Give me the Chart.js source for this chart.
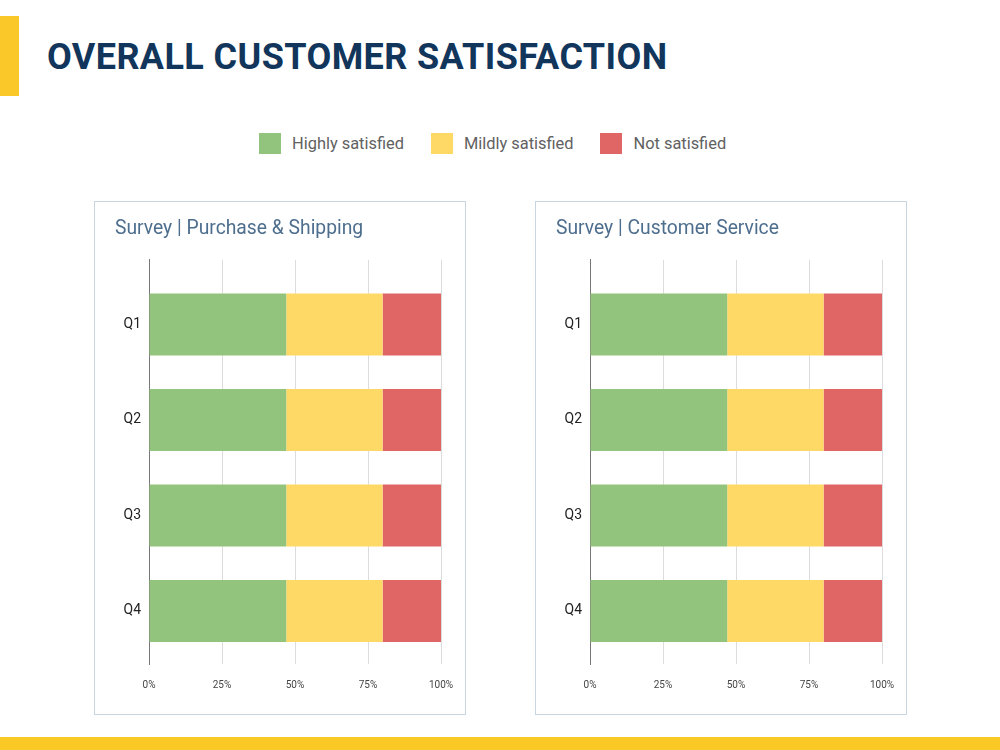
<!DOCTYPE html>
<html>
<head>
<meta charset="utf-8">
<script src="https://cdn.jsdelivr.net/npm/chart.js@4.4.1/dist/chart.umd.min.js"></script>
<style>
  body { margin: 0; background: #fff; font-family: Roboto, "Noto Sans", sans-serif; }
  .page { position: relative; width: 1000px; height: 750px; overflow: hidden; }
  .side-bar { position: absolute; left: 0; top: 16px; width: 19px; height: 80px; background: #fbc82a; }
  .bottom-bar { position: absolute; left: 0; top: 737px; width: 1000px; height: 13px; background: #fbc926; }
  h1 { position: absolute; left: 47px; top: 39px; margin: 0; font-size: 36px; line-height: 36px;
       letter-spacing: 0.4px; font-weight: 700; color: #12355b; white-space: nowrap; }
  #legend { position: absolute; left: 259px; top: 133px; display: flex; align-items: center; }
  .item { display: flex; align-items: center; margin-right: 27px; font-size: 16.4px; color: #616161; }
  .swatch { width: 22px; height: 21px; margin-right: 11px; }
  .panel { position: absolute; top: 201px; width: 372px; height: 514px; box-sizing: border-box;
           border: 1px solid #c9d5df; }
  .panel canvas { display: block; }
</style>
</head>
<body>
<div class="page">
  <div class="side-bar"></div>
  <h1>OVERALL CUSTOMER SATISFACTION</h1>
  <div id="legend"></div>
  <div class="panel" style="left:94px"><canvas id="purchase" width="370" height="512"></canvas></div>
  <div class="panel" style="left:535px"><canvas id="service" width="370" height="512"></canvas></div>
  <div class="bottom-bar"></div>
</div>
<script>
const questions = ['Q1', 'Q2', 'Q3', 'Q4']
const seriesNames = ['Highly satisfied', 'Mildly satisfied', 'Not satisfied']
const seriesColors = ['#93c47d', '#ffd966', '#e06666']
const xTicks = [0, 25, 50, 75, 100]

// Survey | Purchase & Shipping
const purchaseHighly = [47, 47, 47, 47]
const purchaseMildly = [33, 33, 33, 33]
const purchaseNot = [20, 20, 20, 20]

// Survey | Customer Service
const serviceHighly = [47, 47, 47, 47]
const serviceMildly = [33, 33, 33, 33]
const serviceNot = [20, 20, 20, 20]

// html legend shared by both charts
const legend = document.getElementById('legend')
seriesNames.forEach((name, i) => {
    const item = document.createElement('div')
    item.className = 'item'
    item.innerHTML = `<span class="swatch" style="background:${seriesColors[i]}"></span>${name}`
    legend.appendChild(item)
})

function createSurveyChart(id, title, series){
    const ctx = document.getElementById(id).getContext('2d')
    return new Chart(ctx, {
        type: 'bar',
        data: {
            datasets: series.map((values, i) => ({
                label: seriesNames[i],
                data: values.map((v, j) => ({ x: v, y: j + 1 })),
                backgroundColor: seriesColors[i],
                borderWidth: 0,
                categoryPercentage: 0.8,
                barPercentage: 0.81,
            }))
        },
        options: {
            indexAxis: 'y',
            responsive: false,
            animation: false,
            layout: { padding: { left: 20, right: 24, top: 0, bottom: 0 } },
            plugins: {
                legend: { display: false },
                tooltip: { enabled: false },
                title: {
                    display: true,
                    text: title,
                    align: 'start',
                    color: '#4e6e8e',
                    font: { family: 'Roboto', size: 19.3, weight: 'normal' },
                    padding: { top: 16, bottom: 18.8 },
                },
            },
            scales: {
                x: {
                    type: 'linear',
                    stacked: true,
                    min: 0,
                    max: 100,
                    afterBuildTicks: s => { s.ticks = xTicks.map(v => ({ value: v })) },
                    afterFit: s => { s.height = 50; s.paddingLeft = 0; s.paddingRight = 0 },
                    grid: { color: '#dcdcdc', drawTicks: false },
                    border: { display: false },
                    ticks: {
                        padding: 15,
                        color: '#444',
                        font: { family: 'Roboto', size: 10 },
                        callback: v => v + '%',
                    },
                },
                y: {
                    type: 'linear',
                    stacked: true,
                    reverse: true,
                    offset: false,
                    bounds: 'data',
                    min: 0.325,
                    max: 4.555,
                    afterBuildTicks: s => { s.ticks = questions.map((q, i) => ({ value: i + 1 })) },
                    afterFit: s => { s.width = 34 },
                    grid: { display: false, drawTicks: false, offset: false },
                    border: { display: true, color: '#777', width: 1 },
                    ticks: {
                        padding: 8,
                        color: '#222',
                        font: { family: 'Roboto', size: 14 },
                        callback: v => questions[Math.round(v) - 1],
                    },
                },
            },
        },
    })
}

createSurveyChart('purchase', 'Survey | Purchase & Shipping', [purchaseHighly, purchaseMildly, purchaseNot])
createSurveyChart('service', 'Survey | Customer Service', [serviceHighly, serviceMildly, serviceNot])
</script>
</body>
</html>
